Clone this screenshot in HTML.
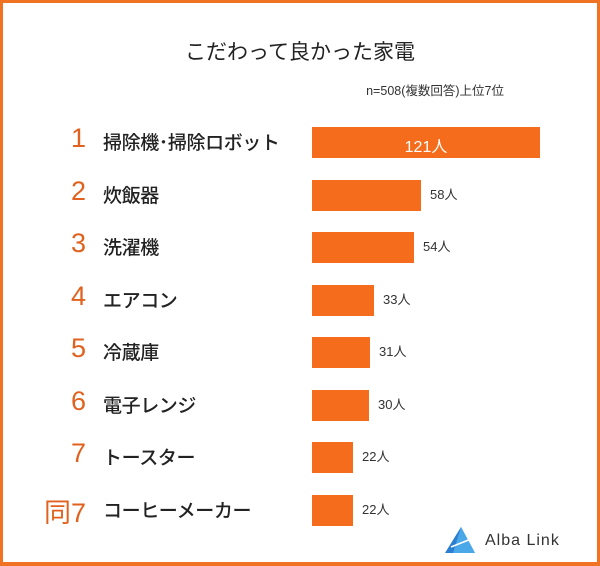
<!DOCTYPE html>
<html><head><meta charset="utf-8"><style>
body{margin:0;width:600px;height:566px;overflow:hidden;background:#fff;font-family:"Liberation Sans","Noto Sans CJK JP",sans-serif}
.frame{position:absolute;left:0;top:0;width:594px;height:559px;border:3px solid #f07323;border-bottom-width:4px;background:#fff}
.t{position:absolute;white-space:nowrap;color:#222}
.bar{position:absolute;left:312px;height:31px;background:#f56c1c}
.rk{position:absolute;width:90px;text-align:right;left:-4px;color:#e0621e;font-size:27px}
.lb{position:absolute;left:103px;font-size:19px;font-weight:500;color:#222;letter-spacing:-0.4px}
.v{position:absolute;font-size:13px;color:#333}
</style></head><body>
<div class="frame"></div>
<div class="t" style="left:0;width:600px;text-align:center;top:36px;font-size:21px;font-weight:400">こだわって良かった家電</div>
<div class="t" style="right:96px;top:80px;font-size:12.5px;color:#333">n=508(複数回答)上位7位</div>

<div class="rk" style="top:123px">1</div><div class="lb" style="top:128px">掃除機･掃除ロボット</div>
<div class="bar" style="top:127px;width:228px"></div><div class="t" style="left:312px;width:228px;text-align:center;top:133px;font-size:16px;color:#fff">121人</div>

<div class="rk" style="top:176px">2</div><div class="lb" style="top:181px">炊飯器</div>
<div class="bar" style="top:180px;width:109px"></div><div class="v" style="left:430px;top:184px">58人</div>

<div class="rk" style="top:228px">3</div><div class="lb" style="top:233px">洗濯機</div>
<div class="bar" style="top:232px;width:102px"></div><div class="v" style="left:423px;top:236px">54人</div>

<div class="rk" style="top:281px">4</div><div class="lb" style="top:286px">エアコン</div>
<div class="bar" style="top:285px;width:62px"></div><div class="v" style="left:383px;top:289px">33人</div>

<div class="rk" style="top:333px">5</div><div class="lb" style="top:338px">冷蔵庫</div>
<div class="bar" style="top:337px;width:58px"></div><div class="v" style="left:379px;top:341px">31人</div>

<div class="rk" style="top:386px">6</div><div class="lb" style="top:391px">電子レンジ</div>
<div class="bar" style="top:390px;width:57px"></div><div class="v" style="left:378px;top:394px">30人</div>

<div class="rk" style="top:438px">7</div><div class="lb" style="top:443px">トースター</div>
<div class="bar" style="top:442px;width:41px"></div><div class="v" style="left:362px;top:446px">22人</div>

<div class="rk" style="top:491px">同7</div><div class="lb" style="top:496px">コーヒーメーカー</div>
<div class="bar" style="top:495px;width:41px"></div><div class="v" style="left:362px;top:499px">22人</div>

<svg style="position:absolute;left:443px;top:525px" width="34" height="30"><polygon points="18,2 2,28 32,28" fill="#2a7fd0"/><polygon points="18,2 10,28 32,28" fill="#4aa8e8"/><path d="M8,22 L28,14" stroke="#fff" stroke-width="1.5"/></svg>
<div class="t" style="left:485px;top:532px;font-size:16px;color:#333;letter-spacing:1px">Alba Link</div>
</body></html>
